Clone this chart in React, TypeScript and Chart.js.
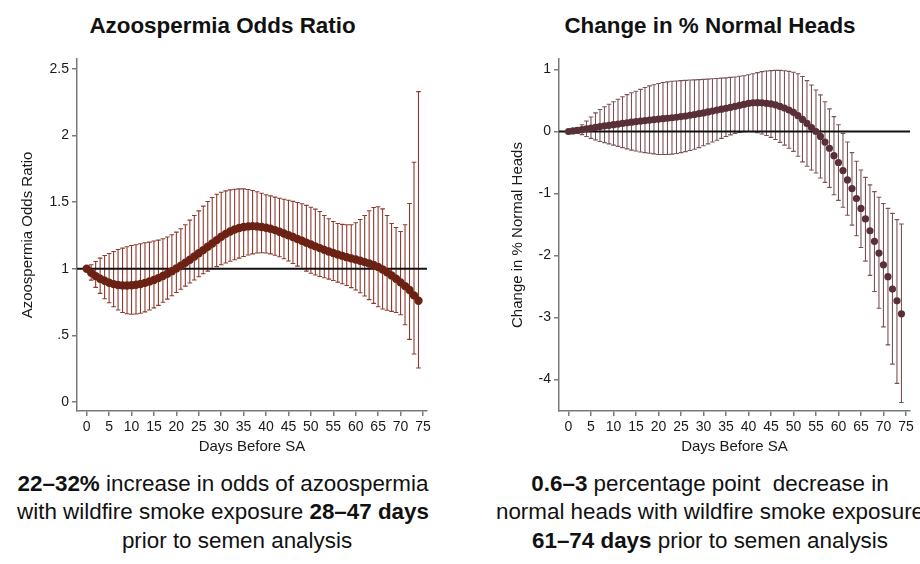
import React, { useEffect, useRef } from "react";
import { Chart, registerables } from "chart.js";

Chart.register(...registerables);
Chart.defaults.font.family = '"Liberation Sans", Arial, Helvetica, sans-serif';

// ---------- data ----------
const days = [
  0, 1, 2, 3, 4, 5, 6, 7, 8, 9,
  10, 11, 12, 13, 14, 15, 16, 17, 18, 19,
  20, 21, 22, 23, 24, 25, 26, 27, 28, 29,
  30, 31, 32, 33, 34, 35, 36, 37, 38, 39,
  40, 41, 42, 43, 44, 45, 46, 47, 48, 49,
  50, 51, 52, 53, 54, 55, 56, 57, 58, 59,
  60, 61, 62, 63, 64, 65, 66, 67, 68, 69,
  70, 71, 72, 73, 74,
];

const orCenter = [
  1.0, 0.97, 0.945, 0.925, 0.91, 0.895, 0.885, 0.878, 0.875, 0.874,
  0.876, 0.88, 0.886, 0.894, 0.904, 0.916, 0.93, 0.946, 0.963, 0.982,
  1.002, 1.023, 1.045, 1.068, 1.092, 1.116, 1.14, 1.165, 1.19, 1.215,
  1.24, 1.262, 1.28, 1.295, 1.306, 1.314, 1.318, 1.32, 1.318, 1.314,
  1.308, 1.3, 1.29, 1.278, 1.265, 1.252, 1.238, 1.224, 1.21, 1.196,
  1.182, 1.168, 1.155, 1.142, 1.13, 1.118, 1.107, 1.097, 1.087, 1.078,
  1.069, 1.06, 1.05, 1.04, 1.028, 1.013, 0.995, 0.973, 0.95, 0.925,
  0.898, 0.87, 0.84, 0.8, 0.76,
];
const orUpper = [
  1.0, 1.03, 1.055, 1.08, 1.1, 1.115, 1.13, 1.145, 1.155, 1.165,
  1.175, 1.18, 1.188, 1.195, 1.2, 1.208, 1.215, 1.225, 1.238, 1.255,
  1.275, 1.3, 1.33, 1.365, 1.4, 1.435, 1.47, 1.505, 1.535, 1.56,
  1.575, 1.585, 1.592, 1.597, 1.6, 1.6, 1.595, 1.588, 1.578, 1.567,
  1.556, 1.547, 1.538, 1.53, 1.522, 1.514, 1.506, 1.497, 1.488, 1.476,
  1.462, 1.448, 1.43, 1.4, 1.375, 1.355, 1.34, 1.333, 1.33, 1.33,
  1.345, 1.37, 1.4, 1.436, 1.46, 1.466, 1.45, 1.4, 1.34, 1.31,
  1.28, 1.33, 1.49, 1.8, 2.33,
];
const orLower = [
  1.0, 0.915, 0.86, 0.815, 0.775, 0.745, 0.715, 0.69, 0.672, 0.662,
  0.658, 0.66, 0.666, 0.676, 0.69, 0.706, 0.725, 0.748, 0.772, 0.797,
  0.822, 0.846, 0.87, 0.893, 0.916, 0.94, 0.962, 0.982, 1.0, 1.016,
  1.03, 1.043, 1.056, 1.068, 1.08, 1.092, 1.103, 1.112, 1.118, 1.12,
  1.118, 1.112, 1.102, 1.09, 1.075, 1.058, 1.04, 1.02, 1.0, 0.982,
  0.966, 0.953, 0.942, 0.932, 0.922, 0.912, 0.9, 0.888, 0.874, 0.858,
  0.84, 0.82, 0.795, 0.768, 0.74, 0.715, 0.698, 0.688, 0.68, 0.672,
  0.655, 0.58, 0.47, 0.36, 0.255,
];

const nhCenter = [
  0, 0.01, 0.02, 0.03, 0.042, 0.055, 0.068, 0.08, 0.09, 0.1,
  0.11, 0.12, 0.13, 0.14, 0.15, 0.16, 0.168, 0.176, 0.184, 0.192,
  0.2, 0.207, 0.214, 0.222, 0.23, 0.24, 0.25, 0.262, 0.274, 0.288,
  0.3, 0.315, 0.33, 0.345, 0.36, 0.375, 0.39, 0.405, 0.42, 0.437,
  0.452, 0.462, 0.465, 0.462, 0.455, 0.444, 0.428, 0.405, 0.378, 0.346,
  0.31, 0.255, 0.195, 0.13, 0.065, 0.0, -0.08, -0.17, -0.27, -0.39,
  -0.5, -0.63, -0.78, -0.92, -1.08, -1.24, -1.41, -1.6, -1.77, -1.96,
  -2.15, -2.34, -2.54, -2.73, -2.94,
];
const nhUpper = [
  0, 0.03, 0.065, 0.11, 0.17, 0.235, 0.3, 0.355, 0.4, 0.44,
  0.48, 0.52, 0.56, 0.595, 0.625, 0.65, 0.68, 0.71, 0.735, 0.755,
  0.775, 0.79, 0.8, 0.81, 0.815, 0.82, 0.825, 0.83, 0.833, 0.836,
  0.84, 0.845, 0.85, 0.855, 0.86, 0.865, 0.872, 0.88, 0.89, 0.9,
  0.915, 0.93, 0.95, 0.965, 0.975, 0.982, 0.985, 0.985, 0.98, 0.97,
  0.955, 0.93, 0.887, 0.82, 0.75, 0.67, 0.59, 0.48, 0.365, 0.24,
  0.11, -0.03, -0.17, -0.34, -0.48, -0.62, -0.74, -0.86, -0.97, -1.06,
  -1.16, -1.24, -1.32, -1.42, -1.49,
];
const nhLower = [
  0, -0.01, -0.03, -0.05, -0.08, -0.11, -0.135, -0.16, -0.18, -0.2,
  -0.22, -0.24, -0.26, -0.28, -0.3, -0.315, -0.33, -0.34, -0.35, -0.36,
  -0.37, -0.37, -0.37, -0.365, -0.355, -0.34, -0.325, -0.305, -0.285, -0.26,
  -0.23, -0.2, -0.17, -0.14, -0.11, -0.08, -0.055, -0.03, -0.015, -0.005,
  0.0, -0.005, -0.02, -0.04, -0.065, -0.095, -0.13, -0.175, -0.22, -0.27,
  -0.32, -0.4, -0.49, -0.56, -0.62, -0.67, -0.75, -0.82, -0.9, -1.02,
  -1.11, -1.22, -1.35, -1.51, -1.68, -1.87, -2.09, -2.32, -2.58, -2.85,
  -3.15, -3.44, -3.75, -4.06, -4.37,
];

const xTicks = [0, 5, 10, 15, 20, 25, 30, 35, 40, 45, 50, 55, 60, 65, 70, 75];
const orTicks = [0, 0.5, 1, 1.5, 2, 2.5];
const orTickLabels = ["0", ".5", "1", "1.5", "2", "2.5"];
const nhTicks = [-4, -3, -2, -1, 0, 1];
const nhTickLabels = ["-4", "-3", "-2", "-1", "0", "1"];

// ---------- plugin: error bars via scales ----------
const errorBarPlugin = {
  id: "errorBars",
  beforeDatasetsDraw(chart: any, _args: any, opts: any) {
    const { ctx } = chart;
    const xs = chart.scales.x;
    const ys = chart.scales.y;
    const { xv, lo, hi, color, width, cap } = opts;
    ctx.save();
    ctx.strokeStyle = color;
    ctx.lineWidth = width;
    ctx.beginPath();
    for (let i = 0; i < xv.length; i++) {
      const px = xs.getPixelForValue(xv[i]);
      const yl = ys.getPixelForValue(lo[i]);
      const yu = ys.getPixelForValue(hi[i]);
      ctx.moveTo(px, yl);
      ctx.lineTo(px, yu);
      ctx.moveTo(px - cap, yl);
      ctx.lineTo(px + cap, yl);
      ctx.moveTo(px - cap, yu);
      ctx.lineTo(px + cap, yu);
    }
    ctx.stroke();
    ctx.restore();
  },
};

type PanelProps = {
  left: number;
  center: number[];
  lower: number[];
  upper: number[];
  yTicks: number[];
  yLabels: string[];
  yMin: number;
  yMax: number;
  xMin: number;
  xMax: number;
  refY: number;
  yTitle: string;
  padLeft: number;
  padRight: number;
  yAxisWidth: number;
  markerColor: string;
  barColor: string;
  markerRadius: number;
};

const CW = 460;
const CH = 425;
const CTOP = 40;

function Panel(p: PanelProps) {
  const ref = useRef<HTMLCanvasElement>(null);
  useEffect(() => {
    const axisColor = "#7a7a7a";
    const textColor = "#1a1a1a";
    const chart = new Chart(ref.current as HTMLCanvasElement, {
      type: "scatter",
      data: {
        datasets: [
          {
            data: days.map((d, i) => ({ x: d, y: p.center[i] })),
            pointRadius: p.markerRadius,
            pointBackgroundColor: p.markerColor,
            pointBorderColor: p.markerColor,
            pointBorderWidth: 0,
            order: 0,
          } as any,
          {
            data: [
              { x: p.xMin, y: p.refY },
              { x: p.xMax, y: p.refY },
            ],
            showLine: true,
            borderColor: "#111111",
            borderWidth: 2,
            pointRadius: 0,
            order: 1,
          } as any,
        ],
      },
      plugins: [errorBarPlugin as any],
      options: {
        responsive: false,
        animation: false,
        events: [],
        layout: { padding: { left: p.padLeft, right: p.padRight, top: 19, bottom: 0 } },
        plugins: {
          legend: { display: false },
          tooltip: { enabled: false },
          errorBars: {
            xv: days,
            lo: p.lower,
            hi: p.upper,
            color: p.barColor,
            width: 1.1,
            cap: 2.3,
          },
        } as any,
        scales: {
          x: {
            type: "linear",
            min: p.xMin,
            max: p.xMax,
            afterBuildTicks: (s: any) => {
              s.ticks = xTicks.map((v) => ({ value: v }));
            },
            afterFit: (s: any) => {
              s.height = 54;
            },
            ticks: {
              autoSkip: false,
              maxRotation: 0,
              padding: 3,
              color: textColor,
              font: { size: 14 },
            },
            grid: {
              drawOnChartArea: false,
              drawTicks: true,
              tickLength: 5,
              color: axisColor,
              lineWidth: 1.5,
            },
            border: { display: true, color: axisColor, width: 1.5 },
            title: {
              display: true,
              text: "Days Before SA",
              color: textColor,
              font: { size: 15 },
              padding: { top: 0, bottom: 9 },
            },
          },
          y: {
            type: "linear",
            min: p.yMin,
            max: p.yMax,
            afterBuildTicks: (s: any) => {
              s.ticks = p.yTicks.map((v) => ({ value: v }));
            },
            afterFit: (s: any) => {
              s.width = p.yAxisWidth;
            },
            ticks: {
              padding: 3,
              color: textColor,
              font: { size: 14 },
              callback: (v: any) => {
                const i = p.yTicks.indexOf(Number(v));
                return i >= 0 ? p.yLabels[i] : "";
              },
            },
            grid: {
              drawOnChartArea: false,
              drawTicks: true,
              tickLength: 5,
              color: axisColor,
              lineWidth: 1.5,
            },
            border: { display: true, color: axisColor, width: 1.5 },
            title: {
              display: true,
              text: p.yTitle,
              color: textColor,
              font: { size: 15 },
              padding: { top: 3, bottom: 0 },
            },
          },
        },
      },
    });
    return () => chart.destroy();
  }, []);
  return (
    <canvas
      ref={ref}
      width={CW}
      height={CH}
      style={{ position: "absolute", left: p.left, top: CTOP, width: CW, height: CH }}
    />
  );
}

const headStyle: React.CSSProperties = {
  position: "absolute",
  top: 15,
  fontFamily: '"Liberation Sans", Arial, Helvetica, sans-serif',
  fontWeight: "bold",
  fontSize: 22.4,
  lineHeight: "22.4px",
  color: "#111",
  textAlign: "center",
  whiteSpace: "nowrap",
};

const capStyle: React.CSSProperties = {
  position: "absolute",
  top: 470,
  fontFamily: '"Liberation Sans", Arial, Helvetica, sans-serif',
  fontSize: 22.4,
  lineHeight: "28.3px",
  color: "#111",
  textAlign: "center",
  whiteSpace: "pre",
};

export default function App() {
  return (
    <div
      style={{
        position: "fixed",
        left: 0,
        top: 0,
        width: 920,
        height: 564,
        overflow: "hidden",
        background: "#ffffff",
      }}
    >
      <div style={{ ...headStyle, left: 0, width: 445 }}>Azoospermia Odds Ratio</div>
      <div style={{ ...headStyle, left: 500, width: 420 }}>Change in % Normal Heads</div>

      <Panel
        left={0}
        center={orCenter}
        lower={orLower}
        upper={orUpper}
        yTicks={orTicks}
        yLabels={orTickLabels}
        yMin={-0.068}
        yMax={2.575}
        xMin={-2.16}
        xMax={75.9}
        refY={1}
        yTitle="Azoospermia Odds Ratio"
        padLeft={16}
        padRight={33}
        yAxisWidth={61}
        markerColor="#6b2214"
        barColor="#8c3a2e"
        markerRadius={4.2}
      />
      <Panel
        left={460}
        center={nhCenter}
        lower={nhLower}
        upper={nhUpper}
        yTicks={nhTicks}
        yLabels={nhTickLabels}
        yMin={-4.506}
        yMax={1.169}
        xMin={-2.11}
        xMax={75.9}
        refY={0}
        yTitle="Change in % Normal Heads"
        padLeft={46}
        padRight={10}
        yAxisWidth={53}
        markerColor="#5a3038"
        barColor="#7a5359"
        markerRadius={3.6}
      />

      <div style={{ ...capStyle, left: 0, width: 446 }}>
        <div>
          <b>22–32%</b> increase in odds of azoospermia
        </div>
        <div>
          with wildfire smoke exposure <b>28–47 days</b>
        </div>
        <div style={{ position: "relative", left: 14 }}>prior to semen analysis</div>
      </div>
      <div style={{ ...capStyle, left: 480, width: 460 }}>
        <div>
          <b>0.6–3</b> percentage point  decrease in
        </div>
        <div>normal heads with wildfire smoke exposure</div>
        <div>
          <b>61–74 days</b> prior to semen analysis
        </div>
      </div>
    </div>
  );
}
